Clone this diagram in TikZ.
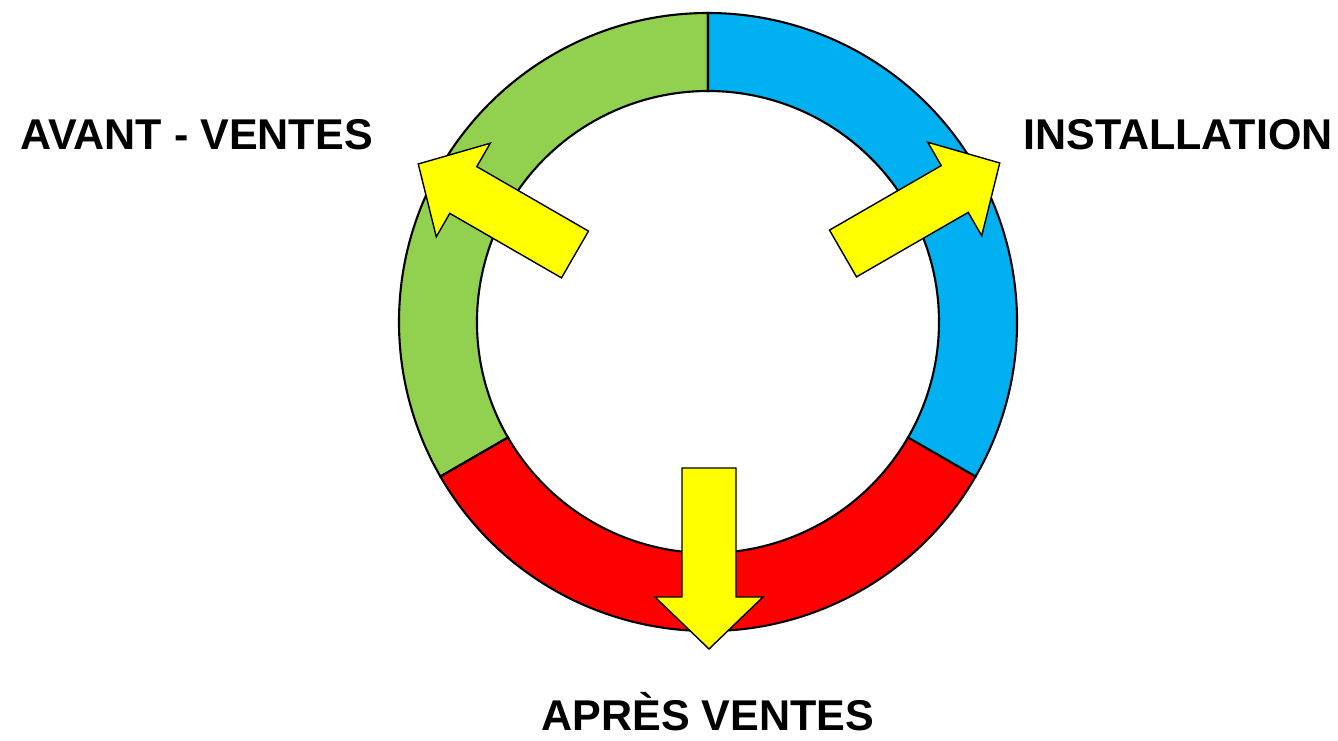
\documentclass[tikz,border=0pt]{standalone}
\usepackage{fontspec}
\setmainfont{Liberation Sans}
\definecolor{ringgreen}{HTML}{92D050}
\definecolor{ringblue}{HTML}{00B0F0}
\definecolor{ringred}{HTML}{FF0000}
\definecolor{arrowyellow}{HTML}{FFFF00}
\tikzset{
  sector/.style={draw=black, line width=1.2pt},
  phase/.style={font=\bfseries\fontsize{24.5}{28}\selectfont, inner sep=0pt},
  blockarrow/.style={draw=black, fill=arrowyellow, line width=0.8pt, line join=miter}
}
\begin{document}
\begin{tikzpicture}
    \useasboundingbox (-14.16,-8.38) rectangle (12.6,6.44);
    % ring center at (0,0)
    \coordinate (O) at (0,0);
    \def\ro{6.18}
    \def\ri{4.62}
    % three sectors of the ring
    \draw[sector, fill=ringgreen] (90:\ro) arc (90:210:\ro) -- (210:\ri) arc (210:90:\ri) -- cycle;
    \draw[sector, fill=ringred] (210:\ro) arc (210:330:\ro) -- (330:\ri) arc (330:210:\ri) -- cycle;
    \draw[sector, fill=ringblue] (330:\ro) arc (330:450:\ro) -- (450:\ri) arc (450:330:\ri) -- cycle;
    % block arrows: tail middle, then direction
    \def\sw{0.54}  % half shaft width
    \def\hw{1.08}  % half head width
    \def\sl{2.58}  % shaft length
    \def\al{3.62}  % full length
    \foreach \tx/\ty/\ang in {-2.66/1.35/150, 2.70/1.37/30, 0.02/-2.92/-90} {
      \begin{scope}[shift={(\tx,\ty)}, rotate=\ang]
        \draw[blockarrow] (0,-\sw) -- (\sl,-\sw) -- (\sl,-\hw) -- (\al,0) -- (\sl,\hw) -- (\sl,\sw) -- (0,\sw) -- cycle;
      \end{scope}
    }
    % labels
    \node[phase, anchor=base west] (avant) at (-13.76,3.44) {AVANT - VENTES};
    \node[phase, anchor=base east] (install) at (12.5,3.44) {INSTALLATION};
    \node[phase, anchor=base] (apres) at (0,-8.18) {APRÈS VENTES};
\end{tikzpicture}
\end{document}
